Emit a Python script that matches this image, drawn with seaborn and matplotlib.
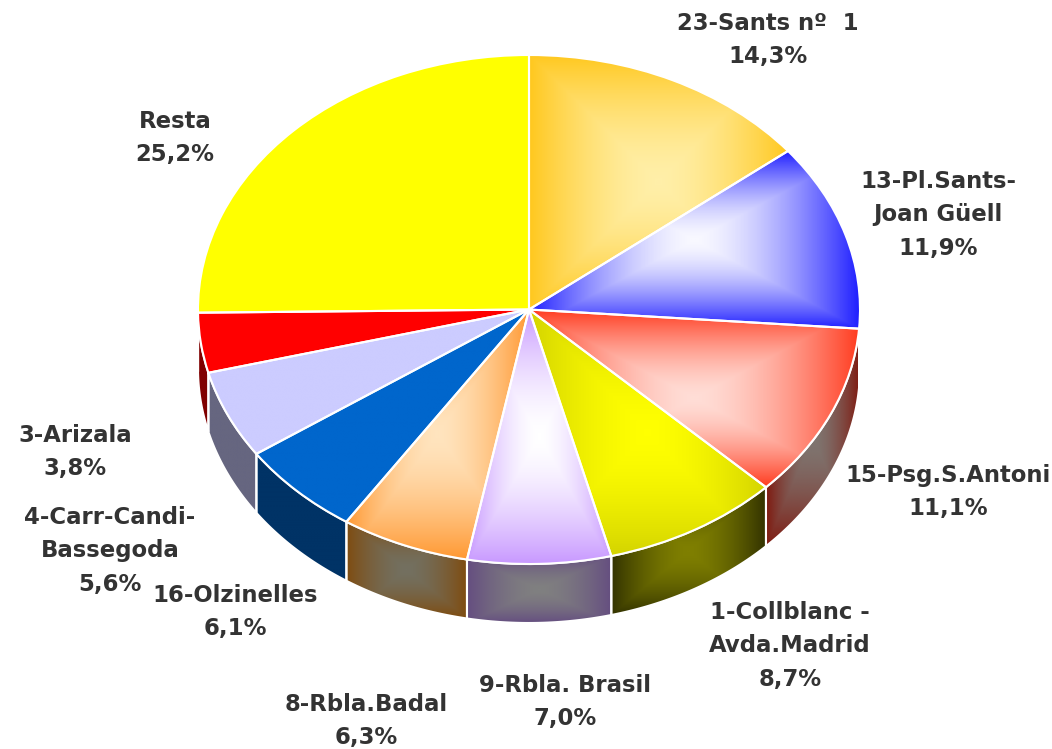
import matplotlib
matplotlib.use('Agg')
import matplotlib.pyplot as plt
import numpy as np
import seaborn as sns

WIDTH = 1052
HEIGHT = 749
CENTER_X = 529
CENTER_Y = 309.5
RADIUS_X = 331
RADIUS_Y = 254.5
DEPTH = 59 / RADIUS_Y

names = ['23-Sants nº  1', '13-Pl.Sants-\nJoan Güell', '15-Psg.S.Antoni', '1-Collblanc -\nAvda.Madrid',
         '9-Rbla. Brasil', '8-Rbla.Badal', '16-Olzinelles', '4-Carr-Candi-\nBassegoda', '3-Arizala', 'Resta']
values = [14.3, 11.9, 11.1, 8.7, 7.0, 6.3, 6.1, 5.6, 3.8, 25.2]

# centre of each label in pixels of the picture
label_x = [768, 938, 948, 790, 565, 366, 235, 110, 75, 175]
label_y = [40, 215, 492, 646, 702, 721, 612, 551, 452, 138]

top_edge = ['#ffc81e', '#1f1fff', '#ff3b1f', '#d4d400', '#c899ff', '#ff9933', '#0066cc', '#ccccff', '#ff0000', '#ffff00']
top_mid = ['#ffefa8', '#f8f8ff', '#ffddd6', '#ffff00', '#ffffff', '#ffe4be', '#0066cc', '#ccccff', '#ff0000', '#ffff00']
side_edge = ['#7f6410', '#10107f', '#7f1a10', '#333300', '#654e80', '#7f4c10', '#003366', '#666680', '#800000', '#808000']
side_mid = ['#7f7754', '#7c7c80', '#7f7570', '#7f7f00', '#808080', '#737060', '#003366', '#666680', '#800000', '#808000']


def gradient_image(ax, patch, edge, mid, zorder):
    # rectangular gradient from the middle of the patch box out to its sides
    box = patch.get_path().get_extents(patch.get_patch_transform())
    v, u = np.mgrid[-1:1:300j, -1:1:300j]
    t = np.maximum(np.abs(u), np.abs(v)) ** 1.6
    cmap = sns.blend_palette([mid, edge], n_colors=256, as_cmap=True)
    im = ax.imshow(t, cmap=cmap, vmin=0, vmax=1, aspect='auto', zorder=zorder, interpolation='bilinear',
                   extent=(box.x0, box.x1, box.y0, box.y1))
    im.set_clip_path(patch)


def draw_side_walls(ax, values):
    ends = np.cumsum(values) * 3.6
    starts = ends - np.array(values) * 3.6
    for i in range(len(values)):
        a0 = max(starts[i], 90)
        a1 = min(ends[i], 270)
        if a1 <= a0:
            continue
        a = np.radians(np.linspace(a0, a1, 80))
        x = np.sin(a)
        y = np.cos(a)
        xs = np.concatenate([x, x[::-1]])
        ys = np.concatenate([y, y[::-1] - DEPTH])
        wall = ax.fill(xs, ys, facecolor='none', edgecolor='white', linewidth=1.5, zorder=2)[0]
        gradient_image(ax, wall, side_edge[i], side_mid[i], 1)


if __name__ == '__main__':
    sns.set_theme(style='white')
    plt.rcParams['font.family'] = ['DejaVu Sans']

    fig = plt.figure(figsize=(WIDTH / 100, HEIGHT / 100), dpi=100)
    ax = fig.add_axes([0, 0, 1, 1])

    wedges, _ = ax.pie(values, startangle=90, counterclock=False, radius=1,
                       colors=['none'] * len(values),
                       wedgeprops={'edgecolor': 'white', 'linewidth': 1.5, 'zorder': 4})
    for i, wedge in enumerate(wedges):
        gradient_image(ax, wedge, top_edge[i], top_mid[i], 3)

    draw_side_walls(ax, values)

    ax.set_aspect('auto')
    ax.set_xlim(-CENTER_X / RADIUS_X, (WIDTH - CENTER_X) / RADIUS_X)
    ax.set_ylim((CENTER_Y - HEIGHT) / RADIUS_Y, CENTER_Y / RADIUS_Y)
    ax.axis('off')

    for name, value, px, py in zip(names, values, label_x, label_y):
        text = name + '\n' + f'{value:.1f}'.replace('.', ',') + '%'
        ax.text(px / WIDTH, 1 - py / HEIGHT, text, transform=ax.transAxes, ha='center', va='center',
                fontsize=16.4, fontweight='bold', color='#333333', linespacing=1.6, zorder=6)

    plt.savefig('out.png', dpi=100)
    plt.close('all')
